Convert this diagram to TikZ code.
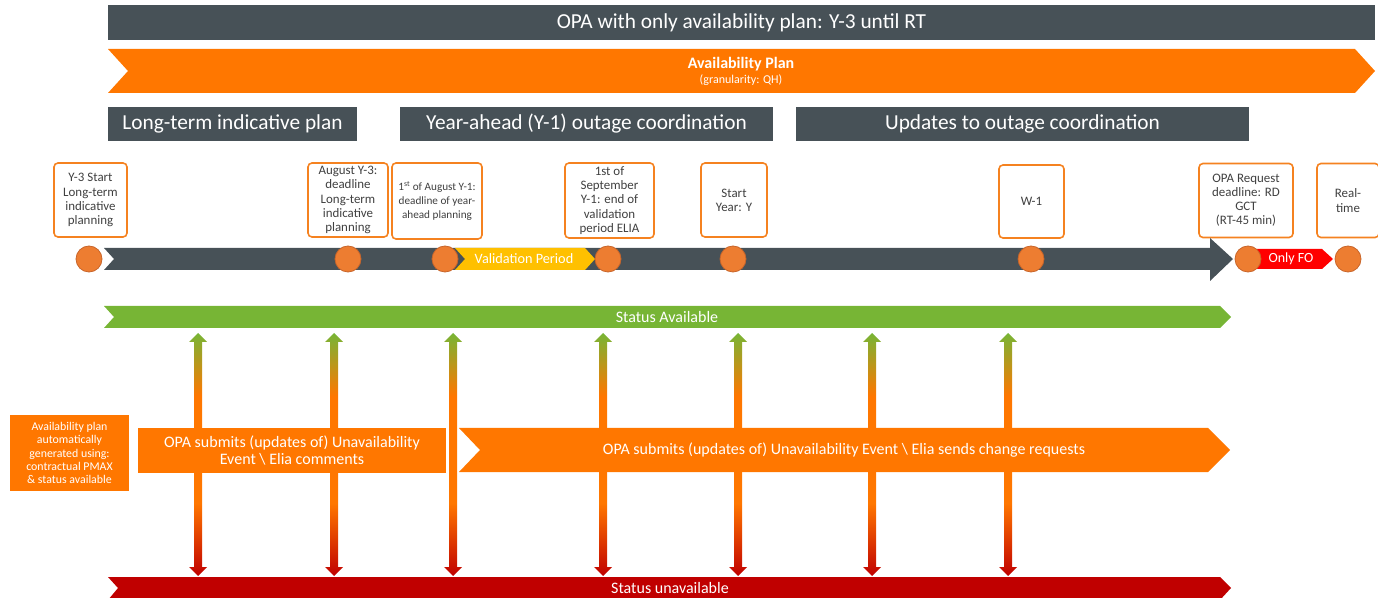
\documentclass[tikz,border=0pt]{standalone}
\usepackage{fontspec}
\setmainfont{Carlito}
\usepackage{tikz}
\usepackage{xcolor}
\usetikzlibrary{positioning, calc}
\definecolor{SlateGrey}{HTML}{475157}
\definecolor{PlanOrange}{HTML}{FF7700}
\definecolor{BoxOrange}{HTML}{F58220}
\definecolor{DotOrange}{HTML}{ED7D31}
\definecolor{DotEdge}{HTML}{C8652A}
\definecolor{ValYellow}{HTML}{FFC000}
\definecolor{FoRed}{HTML}{FF0000}
\definecolor{AvailGreen}{HTML}{77B535}
\definecolor{UnavailRed}{HTML}{C00000}
\definecolor{LabelGrey}{HTML}{404040}
\pgfdeclareverticalshading{statusflow}{100bp}{color(0bp)=(UnavailRed); color(25bp)=(UnavailRed);
  color(40bp)=(PlanOrange); color(62bp)=(PlanOrange); color(75bp)=(AvailGreen); color(100bp)=(AvailGreen)}

\begin{document}
\begin{tikzpicture}[x=0.75pt, y=-0.75pt,
  bar/.style={fill=SlateGrey, text=white, inner sep=0pt, minimum height=25.5pt,
              font=\fontsize{16}{19}\selectfont},
  milestone/.style={draw=BoxOrange, line width=1.2pt, rounded corners=3pt, fill=white,
              text=LabelGrey, align=center, inner sep=0pt, minimum height=55.5pt,
              font=\fontsize{9.7}{10.6}\selectfont},
  dot/.style={circle, fill=DotOrange, draw=DotEdge, line width=0.6pt,
              minimum size=19.5pt, inner sep=0pt},
  flowbox/.style={fill=PlanOrange, text=white, align=center, inner sep=0pt},
  barlabel/.style={text=white, inner sep=0pt, font=\fontsize{12}{14}\selectfont}]
\useasboundingbox (0,0) rectangle (1378,598);

% header and plan band
\node[bar, minimum width=950.25pt, minimum height=26.25pt] (title) at (741.5,22.5)
  {OPA with only availability plan: Y-3 until RT};
\fill[PlanOrange] (108,49) -- (1355,49) -- (1375,71) -- (1355,93) -- (108,93) -- (128,71) -- cycle;
\node[text=white, inner sep=0pt, font=\fontsize{12}{14}\selectfont\bfseries] (availplan) at (741,64)
  {Availability Plan};
\node[text=white, inner sep=0pt, font=\fontsize{9}{10}\selectfont] (granul) at (741,80)
  {(granularity: QH)};

% phases
\node[bar, minimum width=186.75pt] (phaseLong) at (232.5,124) {Long-term indicative plan};
\node[bar, minimum width=279.75pt] (phaseYear) at (586.5,124) {Year-ahead (Y-1) outage coordination};
\node[bar, minimum width=339.75pt] (phaseUpd) at (1022.5,124) {Updates to outage coordination};

% milestones
\node[milestone, minimum width=54.75pt] (msStart) at (90.5,200)
  {Y-3 Start\\Long-term\\indicative\\planning};
\node[milestone, minimum width=60pt] (msAugY3) at (348,200)
  {August Y-3:\\deadline\\Long-term\\indicative\\planning};
\node[milestone, minimum width=67.5pt, minimum height=57pt, font=\fontsize{8.4}{10.6}\selectfont] (msAugY1)
  at (437,201) {1\textsuperscript{st} of August Y-1:\\deadline of year-\\ahead planning};
\node[milestone, minimum width=66.75pt, minimum height=56.25pt] (msSep) at (609.5,200.5)
  {1st of\\September\\Y-1: end of\\validation\\period ELIA};
\node[milestone, minimum width=49.5pt] (msYear) at (734,200) {Start\\Year: Y};
\node[milestone, minimum width=48.75pt, minimum height=54.75pt] (msWeek) at (1031.5,201.5) {W-1};
\node[milestone, minimum width=70.5pt] (msGct) at (1246,200.5)
  {OPA Request\\deadline: RD\\GCT\\(RT-45 min)};
\node[milestone, minimum width=46.5pt] (msRt) at (1348,200.5) {Real-\\time};

% timeline
\fill[SlateGrey] (104,248) -- (1210,248) -- (1210,238) -- (1233,259) -- (1210,281)
  -- (1210,270) -- (104,270) -- (114,259) -- cycle;
\fill[ValYellow] (455,248) -- (585,248) -- (595,259) -- (585,270) -- (455,270) -- (465,259) -- cycle;
\node[barlabel, font=\fontsize{10.7}{12}\selectfont] (valid) at (524,259) {Validation Period};
\fill[FoRed] (1250,249) -- (1322,249) -- (1333,259) -- (1322,269) -- (1250,269) -- cycle;
\node[barlabel, font=\fontsize{10.5}{12}\selectfont] (onlyfo) at (1291,259) {Only FO};
\foreach \x [count=\i] in {89,348,445,608,733,1031,1248,1348}
  \node[dot] (dot\i) at (\x,259) {};

% status bands
\fill[AvailGreen] (104,306) -- (1220,306) -- (1231,317) -- (1220,328) -- (104,328) -- (114,317) -- cycle;
\node[barlabel] (avail) at (667,317) {Status Available};
\fill[UnavailRed] (108,577) -- (1220,577) -- (1231,588) -- (1220,600) -- (108,600) -- (118,588) -- cycle;
\node[barlabel] (unavail) at (670,588) {Status unavailable};

% status change arrows
\foreach \x in {198,334,453,603,738,872,1008}
  \shade[shading=statusflow] (\x,333) -- ++(9,9) -- ++(-5,0) -- (\x+4,567) -- ++(5,0) -- (\x,576)
    -- ++(-9,-9) -- ++(5,0) -- (\x-4,342) -- ++(-5,0) -- cycle;

% submissions
\node[flowbox, minimum width=89.25pt, minimum height=57pt, font=\fontsize{8.9}{9.9}\selectfont] (autogen)
  at (69.5,453) {Availability plan\\automatically\\generated using:\\contractual PMAX\\\& status available};
\node[flowbox, minimum width=231pt, minimum height=33.75pt, font=\fontsize{12}{13.4}\selectfont] (submitY1)
  at (292,450.5) {OPA submits (updates of) Unavailability\\Event \textbackslash{} Elia comments};
\fill[PlanOrange] (459,428) -- (1208,428) -- (1230,450) -- (1208,472) -- (459,472) -- (480,450) -- cycle;
\node[barlabel] (submitUpd) at (844,450)
  {OPA submits (updates of) Unavailability Event \textbackslash{} Elia sends change requests};
\end{tikzpicture}
\end{document}
